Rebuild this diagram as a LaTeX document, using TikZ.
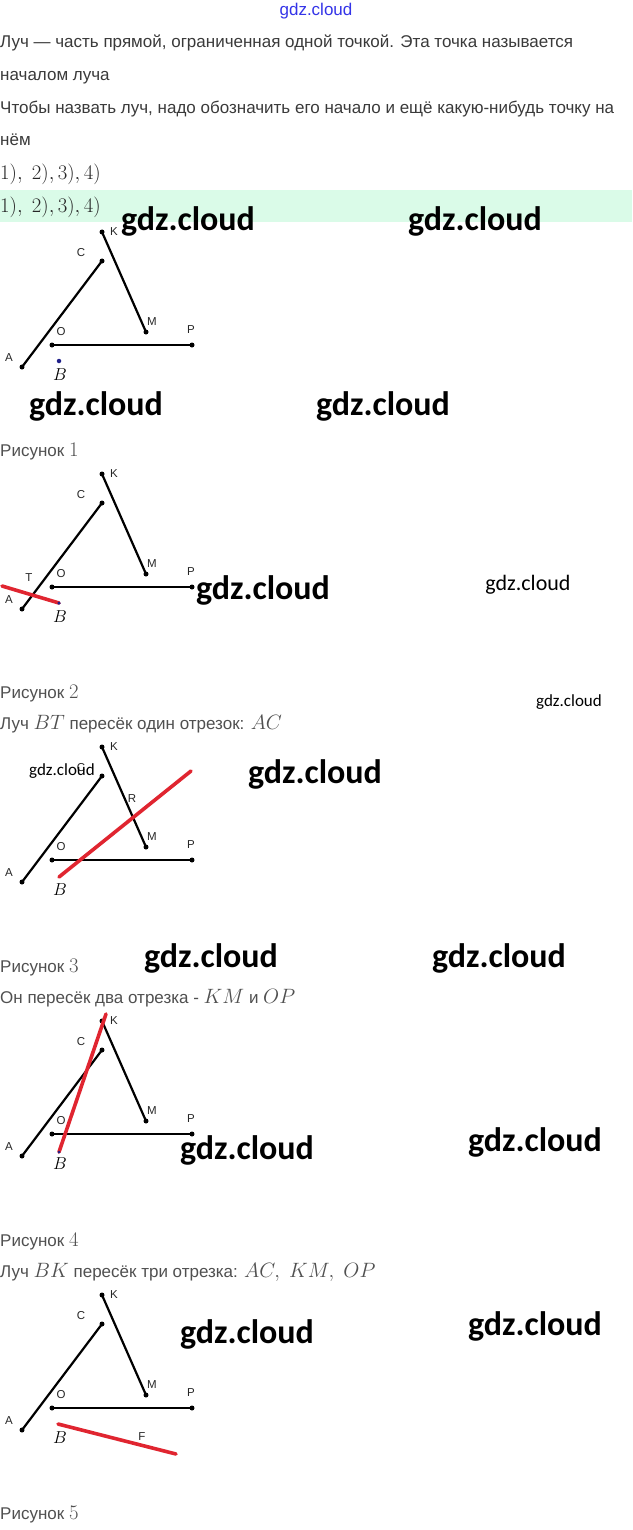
\documentclass[tikz,border=0pt]{standalone}
\usepackage{fontspec}
\setmainfont{Liberation Sans}
\newfontfamily\wmfont{Carlito}
\usetikzlibrary{calc}
\definecolor{textgray}{HTML}{3A3A3A}
\definecolor{capgray}{HTML}{505050}
\definecolor{bandgreen}{HTML}{DAFBE8}
\definecolor{rayred}{HTML}{E02530}
\definecolor{navy}{HTML}{20208A}
\definecolor{topblue}{HTML}{3434E8}
\tikzset{
  seg/.style={line width=2.2pt, draw=black},
  redray/.style={line width=3.6pt, draw=rayred, line cap=round},
  dotpt/.style={circle, fill=black, inner sep=0pt, minimum size=5pt},
  bdot/.style={circle, fill=navy, inner sep=0pt, minimum size=4.5pt},
  lbl/.style={inner sep=0pt, text=black!85, font=\fontsize{11.5}{12}\selectfont},
  blbl/.style={inner sep=0pt, text=black, font=\fontsize{17.28}{17.28}\selectfont},
  body/.style={anchor=base west, inner sep=0pt, text=textgray, font=\fontsize{17}{20}\selectfont},
  captext/.style={anchor=base west, inner sep=0pt, text=capgray, font=\fontsize{17}{20}\selectfont},
  mathline/.style={anchor=base west, inner sep=0pt, text=black!85, font=\fontsize{20.74}{24}\selectfont},
  wmbig/.style={inner sep=0pt, text=black, font=\wmfont\bfseries\fontsize{34}{34}\selectfont},
  wmmid/.style={inner sep=0pt, text=black, font=\wmfont\fontsize{22}{22}\selectfont},
  wmsmall/.style={inner sep=0pt, text=black, font=\wmfont\fontsize{17}{17}\selectfont},
}
\newcommand\cm[1]{{\fontsize{20.74}{21}\selectfont$#1$}}
\newcommand\basefig{%
  \node[dotpt] (K) at (102,0) {};
  \node[dotpt] (C) at (102,29) {};
  \node[dotpt] (A) at (22,135) {};
  \node[dotpt] (M) at (146,100) {};
  \node[dotpt] (O) at (52,113) {};
  \node[dotpt] (P) at (192,113) {};
  \draw[seg] (A.center) -- (C.center);
  \draw[seg] (K.center) -- (M.center);
  \draw[seg] (O.center) -- (P.center);
  \node[lbl] (Kl) at (114,0) {K};
  \node[lbl] (Cl) at (81,21) {C};
  \node[lbl] (Ml) at (152,90) {M};
  \node[lbl] (Ol) at (61,100) {O};
  \node[lbl] (Pl) at (191,98) {P};
  \node[lbl] (Al) at (9,126) {A};
  \node[blbl] (Bl) at (60,143) {$B$};
}
\begin{document}
\begin{tikzpicture}[x=1pt,y=-1pt]
\useasboundingbox (0,0) rectangle (632,1530);
\fill[white] (0,0) rectangle (632,1530);
\fill[bandgreen] (0,190) rectangle (632,222);

\node[inner sep=0pt, text=topblue, font=\fontsize{17}{17}\selectfont] (top) at (316,11) {gdz.cloud};

\node[body] (t1) at (0,48) {Луч — часть прямой, ограниченная одной точкой. Эта точка называется};
\node[body] (t2) at (0,81) {началом луча};
\node[body] (t3) at (0,114) {Чтобы назвать луч, надо обозначить его начало и ещё какую-нибудь точку на};
\node[body] (t4) at (0,146) {нём};
\node[mathline] (m1) at (0,180) {$1),\ 2),3),4)$};
\node[mathline] (m2) at (0,213) {$1),\ 2),3),4)$};

% Figure 1
\begin{scope}[shift={(0,232)}, name prefix=f1-]
  \basefig
  \node[bdot] (B) at (59,129) {};
\end{scope}
\node[captext] (c1) at (0,456) {Рисунок \cm{1}};

% Figure 2
\begin{scope}[shift={(0,474)}, name prefix=f2-]
  \basefig
  \coordinate (B) at (59,129);
  \coordinate (E) at (2,112);
  \draw[redray] (B) -- (E);
  \node[bdot, minimum size=3.5pt] (Bd) at (B) {};
  \node[lbl] (Tl) at (29,104) {T};
\end{scope}
\node[captext] (c2) at (0,698) {Рисунок \cm{2}};
\node[captext] (s2) at (0,729) {Луч \cm{BT} пересёк один отрезок: \cm{AC}};

% Figure 3
\begin{scope}[shift={(0,747)}, name prefix=f3-]
  \basefig
  \coordinate (B) at (59,130);
  \coordinate (E) at (191,24);
  \draw[redray] (B) -- (E);
  \node[lbl] (Rl) at (132,52) {R};
\end{scope}
\node[captext] (c3) at (0,972) {Рисунок \cm{3}};
\node[captext] (s3) at (0,1003) {Он пересёк два отрезка - \cm{KM} и \cm{OP}};

% Figure 4
\begin{scope}[shift={(0,1021)}, name prefix=f4-]
  \basefig
  \coordinate (B) at (59,131);
  \coordinate (E) at (106,-7);
  \draw[redray] (B) -- (E);
  \node[bdot, minimum size=3pt] (Bd) at (B) {};
\end{scope}
\node[captext] (c4) at (0,1246) {Рисунок \cm{4}};
\node[captext] (s4) at (0,1277) {Луч \cm{BK} пересёк три отрезка: \cm{AC,\ KM,\ OP}};

% Figure 5
\begin{scope}[shift={(0,1295)}, name prefix=f5-]
  \basefig
  \coordinate (B) at (58,129);
  \coordinate (E) at (176,159);
  \draw[redray] (B) -- (E);
  \node[lbl] (Fl) at (142,142) {F};
\end{scope}
\node[captext] (c5) at (0,1519) {Рисунок \cm{5}};

% watermarks
\node[wmbig] (w1) at (188,221) {gdz.cloud};
\node[wmbig] (w2) at (475,221) {gdz.cloud};
\node[wmbig] (w3) at (96,406) {gdz.cloud};
\node[wmbig] (w4) at (383,406) {gdz.cloud};
\node[wmbig] (w5) at (263,590) {gdz.cloud};
\node[wmmid] (w6) at (528,585) {gdz.cloud};
\node[wmsmall] (w7) at (569,702) {gdz.cloud};
\node[wmbig] (w8) at (315,774) {gdz.cloud};
\node[wmsmall] (w9) at (62,771) {gdz.cloud};
\node[wmbig] (w10) at (211,958) {gdz.cloud};
\node[wmbig] (w11) at (499,958) {gdz.cloud};
\node[wmbig] (w12) at (247,1150) {gdz.cloud};
\node[wmbig] (w13) at (535,1142) {gdz.cloud};
\node[wmbig] (w14) at (247,1334) {gdz.cloud};
\node[wmbig] (w15) at (535,1326) {gdz.cloud};
\end{tikzpicture}
\end{document}
